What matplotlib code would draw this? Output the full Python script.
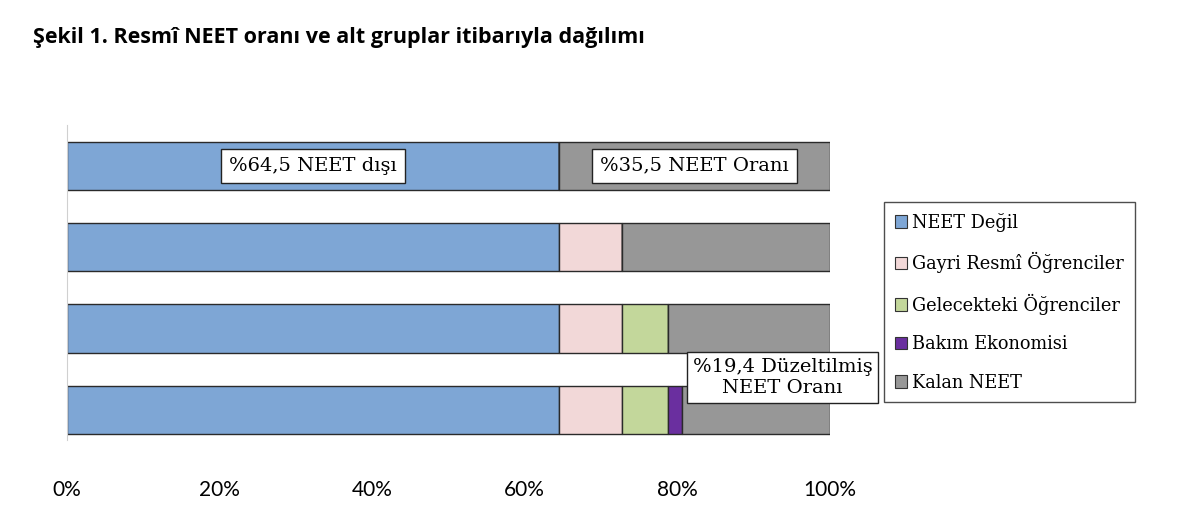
import numpy as np
import matplotlib.pyplot as plt
from matplotlib.patches import Patch
from matplotlib.ticker import PercentFormatter

# values per row, top to bottom (percent)
neet_degil = [64.5, 64.5, 64.5, 64.5]
gayri_resmi = [0.0, 8.3, 8.3, 8.3]
gelecekteki = [0.0, 0.0, 6.0, 6.0]
bakim = [0.0, 0.0, 0.0, 1.8]
kalan = [35.5, 27.2, 21.2, 19.4]

series = [neet_degil, gayri_resmi, gelecekteki, bakim, kalan]
names = ["NEET Değil", "Gayri Resmî Öğrenciler", "Gelecekteki Öğrenciler",
         "Bakım Ekonomisi", "Kalan NEET"]
colors = ["#7ea6d5", "#f2d8d8", "#c3d79b", "#6a2f9f", "#979797"]

serif = "DejaVu Serif"

fig = plt.figure(figsize=(12, 5.12), dpi=100)
ax = fig.add_axes([67/1200, 1-440/512, (830-67)/1200, 315/512])

y = np.arange(4)
left = np.zeros(4)
for vals, c in zip(series, colors):
    vals = np.array(vals)
    ax.barh(y, vals, left=left, height=0.59, color=c, edgecolor="#2a2a2a", linewidth=1.0)
    left += vals

ax.set_xlim(0, 100)
ax.set_ylim(3.37, -0.5)
ax.set_yticks([])
ax.xaxis.set_major_formatter(PercentFormatter(decimals=0))
ax.set_xticks([0, 20, 40, 60, 80, 100])
ax.tick_params(axis="x", length=0, pad=29, labelsize=15)
for lbl in ax.get_xticklabels():
    lbl.set_family("Lato")
for s in ["top", "right", "bottom"]:
    ax.spines[s].set_visible(False)
ax.spines["left"].set_color("#d0d0d0")

box = dict(boxstyle="square,pad=0.42", facecolor="white", edgecolor="#222222", linewidth=1.0)
ax.text(neet_degil[0]/2, 0, "%64,5 NEET dışı", ha="center", va="center",
        fontsize=14, family=serif, bbox=box)
ax.text(neet_degil[0] + kalan[0]/2, 0, "%35,5 NEET Oranı", ha="center", va="center",
        fontsize=14, family=serif, bbox=box)
ax.text(93.8, 2.6, "%19,4 Düzeltilmiş\nNEET Oranı", ha="center", va="center",
        fontsize=14, family=serif, bbox=dict(boxstyle="square,pad=0.3", facecolor="white",
                                             edgecolor="#222222", linewidth=1.0),
        linespacing=1.2, zorder=5)

handles = [Patch(facecolor=c, edgecolor="#333333", linewidth=0.8) for c in colors]
leg = fig.legend(handles, names, loc="upper left", bbox_to_anchor=(884/1200, 1-202/512),
                 frameon=True, fancybox=False, prop={"family": serif, "size": 12.8},
                 handlelength=0.7, handleheight=0.7, handletextpad=0.3,
                 labelspacing=1.15, borderpad=0.6, borderaxespad=0)
leg.get_frame().set_edgecolor("#222222")
leg.get_frame().set_linewidth(1.0)

fig.text(33/1200, 1-37/512, "Şekil 1. Resmî NEET oranı ve alt gruplar itibarıyla dağılımı",
         fontsize=15.5, fontweight="bold", family="Open Sans", va="center", ha="left")

fig.savefig("out.png", dpi=100)
